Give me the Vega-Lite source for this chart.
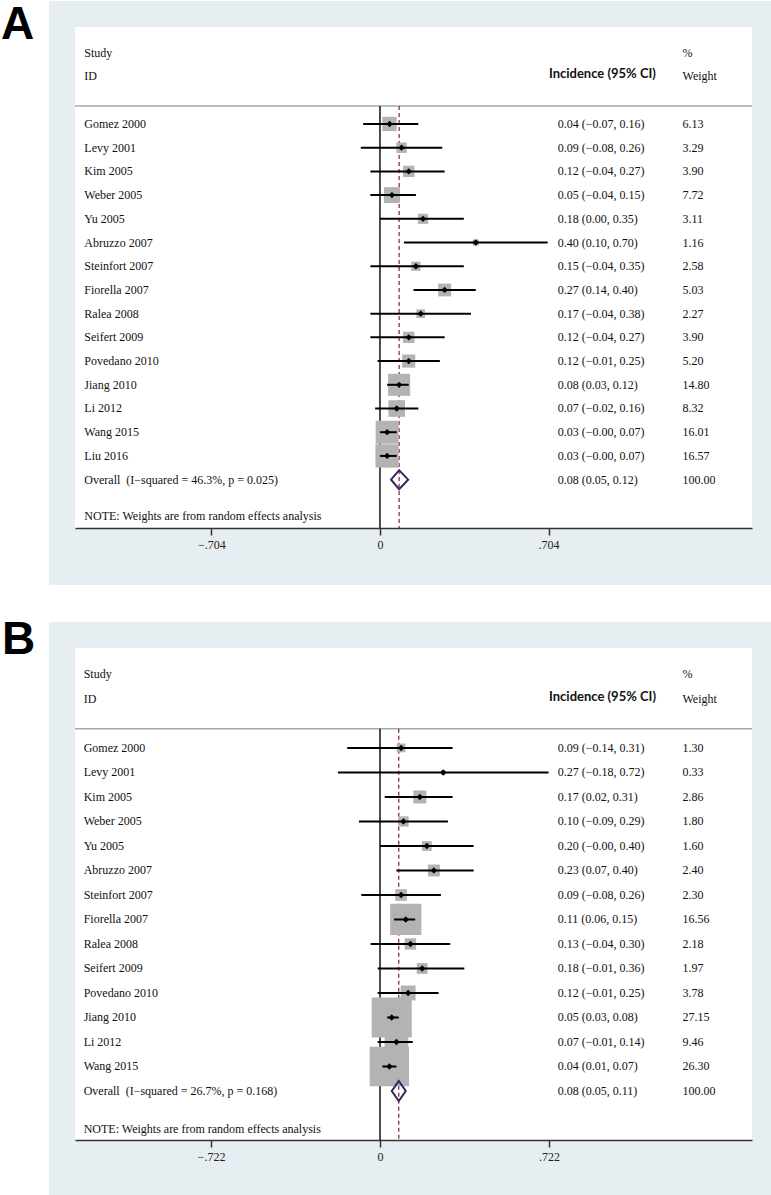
{
  "$schema": "https://vega.github.io/schema/vega-lite/v6.json",
  "padding": 0,
  "autosize": {"type": "pad"},
  "background": "white",
  "spacing": 31,
  "resolve": {"scale": {"size": "independent"}},
  "config": {
    "view": {"stroke": null, "fill": null},
    "text": {"font": "Liberation Serif", "fontSize": 12, "color": "#111111"},
    "axisX": {"grid": false,
      "domainColor": "#333333", "domainWidth": 1.5, "tickColor": "#333333", "tickWidth": 1.5, "tickSize": 7,
      "labelFont": "Liberation Serif", "labelFontSize": 12, "labelColor": "#222222", "labelPadding": 4,
      "labelFlush": false, "labelOverlap": false}
  },
  "datasets": {
    "A": [
      {"row": 1, "study": "Gomez 2000", "es": 0.04, "lo": -0.07, "hi": 0.16, "ci": "0.04 (−0.07, 0.16)", "w": 6.13, "kind": "study"},
      {"row": 2, "study": "Levy 2001", "es": 0.09, "lo": -0.08, "hi": 0.26, "ci": "0.09 (−0.08, 0.26)", "w": 3.29, "kind": "study"},
      {"row": 3, "study": "Kim 2005", "es": 0.12, "lo": -0.04, "hi": 0.27, "ci": "0.12 (−0.04, 0.27)", "w": 3.90, "kind": "study"},
      {"row": 4, "study": "Weber 2005", "es": 0.05, "lo": -0.04, "hi": 0.15, "ci": "0.05 (−0.04, 0.15)", "w": 7.72, "kind": "study"},
      {"row": 5, "study": "Yu 2005", "es": 0.18, "lo": 0.00, "hi": 0.35, "ci": "0.18 (0.00, 0.35)", "w": 3.11, "kind": "study"},
      {"row": 6, "study": "Abruzzo 2007", "es": 0.40, "lo": 0.10, "hi": 0.70, "ci": "0.40 (0.10, 0.70)", "w": 1.16, "kind": "study"},
      {"row": 7, "study": "Steinfort 2007", "es": 0.15, "lo": -0.04, "hi": 0.35, "ci": "0.15 (−0.04, 0.35)", "w": 2.58, "kind": "study"},
      {"row": 8, "study": "Fiorella 2007", "es": 0.27, "lo": 0.14, "hi": 0.40, "ci": "0.27 (0.14, 0.40)", "w": 5.03, "kind": "study"},
      {"row": 9, "study": "Ralea 2008", "es": 0.17, "lo": -0.04, "hi": 0.38, "ci": "0.17 (−0.04, 0.38)", "w": 2.27, "kind": "study"},
      {"row": 10, "study": "Seifert 2009", "es": 0.12, "lo": -0.04, "hi": 0.27, "ci": "0.12 (−0.04, 0.27)", "w": 3.90, "kind": "study"},
      {"row": 11, "study": "Povedano 2010", "es": 0.12, "lo": -0.01, "hi": 0.25, "ci": "0.12 (−0.01, 0.25)", "w": 5.20, "kind": "study"},
      {"row": 12, "study": "Jiang 2010", "es": 0.08, "lo": 0.03, "hi": 0.12, "ci": "0.08 (0.03, 0.12)", "w": 14.80, "kind": "study"},
      {"row": 13, "study": "Li 2012", "es": 0.07, "lo": -0.02, "hi": 0.16, "ci": "0.07 (−0.02, 0.16)", "w": 8.32, "kind": "study"},
      {"row": 14, "study": "Wang 2015", "es": 0.03, "lo": -0.00, "hi": 0.07, "ci": "0.03 (−0.00, 0.07)", "w": 16.01, "kind": "study"},
      {"row": 15, "study": "Liu 2016", "es": 0.03, "lo": -0.00, "hi": 0.07, "ci": "0.03 (−0.00, 0.07)", "w": 16.57, "kind": "study"},
      {"row": 16, "study": "Overall\u00a0 (I−squared = 46.3%, p = 0.025)", "es": 0.08, "lo": 0.05, "hi": 0.12, "ci": "0.08 (0.05, 0.12)", "w": 100.00, "kind": "overall"}
    ],
    "B": [
      {"row": 1, "study": "Gomez 2000", "es": 0.09, "lo": -0.14, "hi": 0.31, "ci": "0.09 (−0.14, 0.31)", "w": 1.30, "kind": "study"},
      {"row": 2, "study": "Levy 2001", "es": 0.27, "lo": -0.18, "hi": 0.72, "ci": "0.27 (−0.18, 0.72)", "w": 0.33, "kind": "study"},
      {"row": 3, "study": "Kim 2005", "es": 0.17, "lo": 0.02, "hi": 0.31, "ci": "0.17 (0.02, 0.31)", "w": 2.86, "kind": "study"},
      {"row": 4, "study": "Weber 2005", "es": 0.10, "lo": -0.09, "hi": 0.29, "ci": "0.10 (−0.09, 0.29)", "w": 1.80, "kind": "study"},
      {"row": 5, "study": "Yu 2005", "es": 0.20, "lo": -0.00, "hi": 0.40, "ci": "0.20 (−0.00, 0.40)", "w": 1.60, "kind": "study"},
      {"row": 6, "study": "Abruzzo 2007", "es": 0.23, "lo": 0.07, "hi": 0.40, "ci": "0.23 (0.07, 0.40)", "w": 2.40, "kind": "study"},
      {"row": 7, "study": "Steinfort 2007", "es": 0.09, "lo": -0.08, "hi": 0.26, "ci": "0.09 (−0.08, 0.26)", "w": 2.30, "kind": "study"},
      {"row": 8, "study": "Fiorella 2007", "es": 0.11, "lo": 0.06, "hi": 0.15, "ci": "0.11 (0.06, 0.15)", "w": 16.56, "kind": "study"},
      {"row": 9, "study": "Ralea 2008", "es": 0.13, "lo": -0.04, "hi": 0.30, "ci": "0.13 (−0.04, 0.30)", "w": 2.18, "kind": "study"},
      {"row": 10, "study": "Seifert 2009", "es": 0.18, "lo": -0.01, "hi": 0.36, "ci": "0.18 (−0.01, 0.36)", "w": 1.97, "kind": "study"},
      {"row": 11, "study": "Povedano 2010", "es": 0.12, "lo": -0.01, "hi": 0.25, "ci": "0.12 (−0.01, 0.25)", "w": 3.78, "kind": "study"},
      {"row": 12, "study": "Jiang 2010", "es": 0.05, "lo": 0.03, "hi": 0.08, "ci": "0.05 (0.03, 0.08)", "w": 27.15, "kind": "study"},
      {"row": 13, "study": "Li 2012", "es": 0.07, "lo": -0.01, "hi": 0.14, "ci": "0.07 (−0.01, 0.14)", "w": 9.46, "kind": "study"},
      {"row": 14, "study": "Wang 2015", "es": 0.04, "lo": 0.01, "hi": 0.07, "ci": "0.04 (0.01, 0.07)", "w": 26.30, "kind": "study"},
      {"row": 15, "study": "Overall\u00a0 (I−squared = 26.7%, p = 0.168)", "es": 0.08, "lo": 0.05, "hi": 0.11, "ci": "0.08 (0.05, 0.11)", "w": 100.00, "kind": "overall"}
    ]
  },
  "vconcat": [
    {
      "width": 677,
      "height": 501,
      "data": {"name": "A"},
      "layer": [
        {
          "data": {"values": [{}]},
          "mark": {"type": "rect", "color": "#e7eef2"},
          "encoding": {
            "x": {"datum": -1.382, "type": "quantitative", "scale": {"domain": [-1.273, 1.553], "nice": false, "zero": false}},
            "x2": {"datum": 1.636},
            "y": {"datum": -4.19, "type": "quantitative", "scale": {"domain": [-3.09, 18.04], "reverse": true, "nice": false, "zero": false}, "axis": null},
            "y2": {"datum": 20.44}
          }
        },
        {
          "data": {"values": [{}]},
          "mark": {"type": "rect", "color": "white"},
          "encoding": {
            "x": {"datum": -1.273, "type": "quantitative", "scale": {"domain": [-1.273, 1.553], "nice": false, "zero": false}},
            "x2": {"datum": 1.553},
            "y": {"datum": -3.09, "type": "quantitative", "scale": {"domain": [-3.09, 18.04], "reverse": true, "nice": false, "zero": false}, "axis": null},
            "y2": {"datum": 18.04}
          }
        },
        {
          "data": {"values": [{}]},
          "mark": {"type": "rule", "color": "#a8a8a8", "strokeWidth": 1.5},
          "encoding": {
            "x": {"datum": -1.273, "type": "quantitative", "scale": {"domain": [-1.273, 1.553], "nice": false, "zero": false}},
            "x2": {"datum": 1.553},
            "y": {"datum": 0.24, "type": "quantitative", "scale": {"domain": [-3.09, 18.04], "reverse": true, "nice": false, "zero": false}, "axis": null}
          }
        },
        {
          "data": {"values": [{}]},
          "mark": {"type": "rule", "color": "#111111", "strokeWidth": 1.5},
          "encoding": {
            "x": {"datum": 0, "type": "quantitative", "scale": {"domain": [-1.273, 1.553], "nice": false, "zero": false}},
            "y": {"datum": 0.24, "type": "quantitative", "scale": {"domain": [-3.09, 18.04], "reverse": true, "nice": false, "zero": false}, "axis": null},
            "y2": {"datum": 18.04}
          }
        },
        {
          "transform": [{"filter": "datum.kind == 'overall'"}],
          "mark": {"type": "rule", "color": "#8b1f24", "strokeWidth": 1.2, "strokeDash": [4, 3]},
          "encoding": {
            "x": {"field": "es", "type": "quantitative", "scale": {"domain": [-1.273, 1.553], "nice": false, "zero": false}, "axis": {"values": [-0.704, 0, 0.704], "title": null, "grid": false, "zindex": 1, "labelExpr": "datum.value == 0 ? '0' : (datum.value < 0 ? '−' : '') + replace(format(abs(datum.value), '.3f'), '0.', '.')"}},
            "y": {"datum": 0.24, "type": "quantitative", "scale": {"domain": [-3.09, 18.04], "reverse": true, "nice": false, "zero": false}, "axis": null},
            "y2": {"datum": 18.04}
          }
        },
        {
          "transform": [{"filter": "datum.kind == 'study'"}],
          "mark": {"type": "point", "shape": "square", "filled": true, "color": "#b3b3b3", "opacity": 1},
          "encoding": {
            "x": {"field": "es", "type": "quantitative", "scale": {"domain": [-1.273, 1.553], "nice": false, "zero": false}, "axis": {"values": [-0.704, 0, 0.704], "title": null, "grid": false, "zindex": 1, "labelExpr": "datum.value == 0 ? '0' : (datum.value < 0 ? '−' : '') + replace(format(abs(datum.value), '.3f'), '0.', '.')"}},
            "y": {"field": "row", "type": "quantitative", "scale": {"domain": [-3.09, 18.04], "reverse": true, "nice": false, "zero": false}, "axis": null},
            "size": {"field": "w", "type": "quantitative", "scale": {"type": "linear", "domain": [0, 100], "range": [0, 3300]}, "legend": null}
          }
        },
        {
          "transform": [{"filter": "datum.kind == 'study'"}],
          "mark": {"type": "rule", "color": "#000000", "strokeWidth": 2},
          "encoding": {
            "x": {"field": "lo", "type": "quantitative", "scale": {"domain": [-1.273, 1.553], "nice": false, "zero": false}, "axis": {"values": [-0.704, 0, 0.704], "title": null, "grid": false, "zindex": 1, "labelExpr": "datum.value == 0 ? '0' : (datum.value < 0 ? '−' : '') + replace(format(abs(datum.value), '.3f'), '0.', '.')"}},
            "x2": {"field": "hi"},
            "y": {"field": "row", "type": "quantitative", "scale": {"domain": [-3.09, 18.04], "reverse": true, "nice": false, "zero": false}, "axis": null}
          }
        },
        {
          "transform": [{"filter": "datum.kind == 'study'"}],
          "mark": {"type": "point", "shape": "diamond", "filled": true, "color": "#000000", "opacity": 1, "size": 40},
          "encoding": {
            "x": {"field": "es", "type": "quantitative", "scale": {"domain": [-1.273, 1.553], "nice": false, "zero": false}, "axis": {"values": [-0.704, 0, 0.704], "title": null, "grid": false, "zindex": 1, "labelExpr": "datum.value == 0 ? '0' : (datum.value < 0 ? '−' : '') + replace(format(abs(datum.value), '.3f'), '0.', '.')"}},
            "y": {"field": "row", "type": "quantitative", "scale": {"domain": [-3.09, 18.04], "reverse": true, "nice": false, "zero": false}, "axis": null}
          }
        },
        {
          "transform": [{"filter": "datum.kind == 'overall'"}],
          "mark": {"type": "point", "shape": "M -0.85 0 L 0 -1 L 0.95 0 L 0 1 Z", "filled": false, "stroke": "#2b2b5e", "strokeWidth": 2, "opacity": 1, "size": 361},
          "encoding": {
            "x": {"field": "es", "type": "quantitative", "scale": {"domain": [-1.273, 1.553], "nice": false, "zero": false}, "axis": {"values": [-0.704, 0, 0.704], "title": null, "grid": false, "zindex": 1, "labelExpr": "datum.value == 0 ? '0' : (datum.value < 0 ? '−' : '') + replace(format(abs(datum.value), '.3f'), '0.', '.')"}},
            "y": {"field": "row", "type": "quantitative", "scale": {"domain": [-3.09, 18.04], "reverse": true, "nice": false, "zero": false}, "axis": null}
          }
        },
        {
          "mark": {"type": "text", "align": "left", "baseline": "middle"},
          "encoding": {
            "x": {"datum": -1.234, "type": "quantitative", "scale": {"domain": [-1.273, 1.553], "nice": false, "zero": false}},
            "y": {"field": "row", "type": "quantitative", "scale": {"domain": [-3.09, 18.04], "reverse": true, "nice": false, "zero": false}, "axis": null},
            "text": {"field": "study"}
          }
        },
        {
          "mark": {"type": "text", "align": "left", "baseline": "middle"},
          "encoding": {
            "x": {"datum": 0.742, "type": "quantitative", "scale": {"domain": [-1.273, 1.553], "nice": false, "zero": false}},
            "y": {"field": "row", "type": "quantitative", "scale": {"domain": [-3.09, 18.04], "reverse": true, "nice": false, "zero": false}, "axis": null},
            "text": {"field": "ci"}
          }
        },
        {
          "mark": {"type": "text", "align": "left", "baseline": "middle"},
          "encoding": {
            "x": {"datum": 1.263, "type": "quantitative", "scale": {"domain": [-1.273, 1.553], "nice": false, "zero": false}},
            "y": {"field": "row", "type": "quantitative", "scale": {"domain": [-3.09, 18.04], "reverse": true, "nice": false, "zero": false}, "axis": null},
            "text": {"field": "w", "type": "quantitative", "format": ".2f"}
          }
        },
        {
          "data": {"values": [{}]},
          "mark": {"type": "text", "align": "left", "baseline": "middle", "text": "Study"},
          "encoding": {
            "x": {"datum": -1.234, "type": "quantitative", "scale": {"domain": [-1.273, 1.553], "nice": false, "zero": false}},
            "y": {"datum": -1.99, "type": "quantitative", "scale": {"domain": [-3.09, 18.04], "reverse": true, "nice": false, "zero": false}, "axis": null}
          }
        },
        {
          "data": {"values": [{}]},
          "mark": {"type": "text", "align": "left", "baseline": "middle", "text": "ID"},
          "encoding": {
            "x": {"datum": -1.234, "type": "quantitative", "scale": {"domain": [-1.273, 1.553], "nice": false, "zero": false}},
            "y": {"datum": -1.02, "type": "quantitative", "scale": {"domain": [-3.09, 18.04], "reverse": true, "nice": false, "zero": false}, "axis": null}
          }
        },
        {
          "data": {"values": [{}]},
          "mark": {"type": "text", "align": "left", "baseline": "middle", "text": "%"},
          "encoding": {
            "x": {"datum": 1.263, "type": "quantitative", "scale": {"domain": [-1.273, 1.553], "nice": false, "zero": false}},
            "y": {"datum": -1.99, "type": "quantitative", "scale": {"domain": [-3.09, 18.04], "reverse": true, "nice": false, "zero": false}, "axis": null}
          }
        },
        {
          "data": {"values": [{}]},
          "mark": {"type": "text", "align": "left", "baseline": "middle", "text": "Weight"},
          "encoding": {
            "x": {"datum": 1.263, "type": "quantitative", "scale": {"domain": [-1.273, 1.553], "nice": false, "zero": false}},
            "y": {"datum": -1.02, "type": "quantitative", "scale": {"domain": [-3.09, 18.04], "reverse": true, "nice": false, "zero": false}, "axis": null}
          }
        },
        {
          "data": {"values": [{}]},
          "mark": {"type": "text", "align": "right", "baseline": "middle", "text": "Incidence (95% CI)", "font": "Lato", "fontWeight": "bold", "fontSize": 13},
          "encoding": {
            "x": {"datum": 1.152, "type": "quantitative", "scale": {"domain": [-1.273, 1.553], "nice": false, "zero": false}},
            "y": {"datum": -1.1, "type": "quantitative", "scale": {"domain": [-3.09, 18.04], "reverse": true, "nice": false, "zero": false}, "axis": null}
          }
        },
        {
          "data": {"values": [{}]},
          "mark": {"type": "text", "align": "left", "baseline": "middle", "text": "NOTE: Weights are from random effects analysis"},
          "encoding": {
            "x": {"datum": -1.234, "type": "quantitative", "scale": {"domain": [-1.273, 1.553], "nice": false, "zero": false}},
            "y": {"datum": 17.55, "type": "quantitative", "scale": {"domain": [-3.09, 18.04], "reverse": true, "nice": false, "zero": false}, "axis": null}
          }
        },
        {
          "data": {"values": [{}]},
          "mark": {"type": "text", "align": "left", "baseline": "alphabetic", "text": "A", "font": "Liberation Sans", "fontWeight": "bold", "fontSize": 46, "color": "#000000"},
          "encoding": {
            "x": {"datum": -1.582, "type": "quantitative", "scale": {"domain": [-1.273, 1.553], "nice": false, "zero": false}},
            "y": {"datum": -2.585, "type": "quantitative", "scale": {"domain": [-3.09, 18.04], "reverse": true, "nice": false, "zero": false}, "axis": null}
          }
        }
      ]
    },
    {
      "width": 677,
      "height": 492,
      "data": {"name": "B"},
      "resolve": {"axis": {"x": "independent"}},
      "layer": [
        {
          "data": {"values": [{}]},
          "mark": {"type": "rect", "color": "#e7eef2"},
          "encoding": {
            "x": {"datum": -1.414, "type": "quantitative", "scale": {"domain": [-1.303, 1.589], "nice": false, "zero": false}, "axis": null},
            "x2": {"datum": 1.674},
            "y": {"datum": -4.143, "type": "quantitative", "scale": {"domain": [-3.08, 17.0], "reverse": true, "nice": false, "zero": false}, "axis": null},
            "y2": {"datum": 19.33}
          }
        },
        {
          "data": {"values": [{}]},
          "mark": {"type": "rect", "color": "white"},
          "encoding": {
            "x": {"datum": -1.303, "type": "quantitative", "scale": {"domain": [-1.303, 1.589], "nice": false, "zero": false}, "axis": null},
            "x2": {"datum": 1.589},
            "y": {"datum": -3.08, "type": "quantitative", "scale": {"domain": [-3.08, 17.0], "reverse": true, "nice": false, "zero": false}, "axis": null},
            "y2": {"datum": 17.0}
          }
        },
        {
          "data": {"values": [{}]},
          "mark": {"type": "rule", "color": "#a8a8a8", "strokeWidth": 1.5},
          "encoding": {
            "x": {"datum": -1.303, "type": "quantitative", "scale": {"domain": [-1.303, 1.589], "nice": false, "zero": false}, "axis": null},
            "x2": {"datum": 1.589},
            "y": {"datum": 0.22, "type": "quantitative", "scale": {"domain": [-3.08, 17.0], "reverse": true, "nice": false, "zero": false}, "axis": null}
          }
        },
        {
          "data": {"values": [{}]},
          "mark": {"type": "rule", "color": "#111111", "strokeWidth": 1.5},
          "encoding": {
            "x": {"datum": 0, "type": "quantitative", "scale": {"domain": [-1.303, 1.589], "nice": false, "zero": false}, "axis": null},
            "y": {"datum": 0.22, "type": "quantitative", "scale": {"domain": [-3.08, 17.0], "reverse": true, "nice": false, "zero": false}, "axis": null},
            "y2": {"datum": 17.0}
          }
        },
        {
          "transform": [{"filter": "datum.kind == 'overall'"}],
          "mark": {"type": "rule", "color": "#8b1f24", "strokeWidth": 1.2, "strokeDash": [4, 3]},
          "encoding": {
            "x": {"field": "es", "type": "quantitative", "scale": {"domain": [-1.303, 1.589], "nice": false, "zero": false}, "axis": null},
            "y": {"datum": 0.22, "type": "quantitative", "scale": {"domain": [-3.08, 17.0], "reverse": true, "nice": false, "zero": false}, "axis": null},
            "y2": {"datum": 17.0}
          }
        },
        {
          "transform": [{"filter": "datum.kind == 'study'"}],
          "mark": {"type": "point", "shape": "square", "filled": true, "color": "#b3b3b3", "opacity": 1},
          "encoding": {
            "x": {"field": "es", "type": "quantitative", "scale": {"domain": [-1.303, 1.589], "nice": false, "zero": false}, "axis": null},
            "y": {"field": "row", "type": "quantitative", "scale": {"domain": [-3.08, 17.0], "reverse": true, "nice": false, "zero": false}, "axis": null},
            "size": {"field": "w", "type": "quantitative", "scale": {"type": "linear", "domain": [0, 100], "range": [0, 5900]}, "legend": null}
          }
        },
        {
          "transform": [{"filter": "datum.kind == 'study'"}],
          "mark": {"type": "rule", "color": "#000000", "strokeWidth": 2},
          "encoding": {
            "x": {"field": "lo", "type": "quantitative", "scale": {"domain": [-1.303, 1.589], "nice": false, "zero": false}, "axis": {"values": [-0.722, 0, 0.722], "title": null, "grid": false, "zindex": 1, "labelExpr": "datum.value == 0 ? '0' : (datum.value < 0 ? '−' : '') + replace(format(abs(datum.value), '.3f'), '0.', '.')"}},
            "x2": {"field": "hi"},
            "y": {"field": "row", "type": "quantitative", "scale": {"domain": [-3.08, 17.0], "reverse": true, "nice": false, "zero": false}, "axis": null}
          }
        },
        {
          "transform": [{"filter": "datum.kind == 'study'"}],
          "mark": {"type": "point", "shape": "diamond", "filled": true, "color": "#000000", "opacity": 1, "size": 40},
          "encoding": {
            "x": {"field": "es", "type": "quantitative", "scale": {"domain": [-1.303, 1.589], "nice": false, "zero": false}, "axis": null},
            "y": {"field": "row", "type": "quantitative", "scale": {"domain": [-3.08, 17.0], "reverse": true, "nice": false, "zero": false}, "axis": null}
          }
        },
        {
          "transform": [{"filter": "datum.kind == 'overall'"}],
          "mark": {"type": "point", "shape": "M -0.7 0 L 0 -1 L 0.7 0 L 0 1 Z", "filled": false, "stroke": "#2b2b5e", "strokeWidth": 2, "opacity": 1, "size": 400},
          "encoding": {
            "x": {"field": "es", "type": "quantitative", "scale": {"domain": [-1.303, 1.589], "nice": false, "zero": false}, "axis": null},
            "y": {"field": "row", "type": "quantitative", "scale": {"domain": [-3.08, 17.0], "reverse": true, "nice": false, "zero": false}, "axis": null}
          }
        },
        {
          "mark": {"type": "text", "align": "left", "baseline": "middle"},
          "encoding": {
            "x": {"datum": -1.266, "type": "quantitative", "scale": {"domain": [-1.303, 1.589], "nice": false, "zero": false}, "axis": null},
            "y": {"field": "row", "type": "quantitative", "scale": {"domain": [-3.08, 17.0], "reverse": true, "nice": false, "zero": false}, "axis": null},
            "text": {"field": "study"}
          }
        },
        {
          "mark": {"type": "text", "align": "left", "baseline": "middle"},
          "encoding": {
            "x": {"datum": 0.759, "type": "quantitative", "scale": {"domain": [-1.303, 1.589], "nice": false, "zero": false}, "axis": null},
            "y": {"field": "row", "type": "quantitative", "scale": {"domain": [-3.08, 17.0], "reverse": true, "nice": false, "zero": false}, "axis": null},
            "text": {"field": "ci"}
          }
        },
        {
          "mark": {"type": "text", "align": "left", "baseline": "middle"},
          "encoding": {
            "x": {"datum": 1.292, "type": "quantitative", "scale": {"domain": [-1.303, 1.589], "nice": false, "zero": false}, "axis": null},
            "y": {"field": "row", "type": "quantitative", "scale": {"domain": [-3.08, 17.0], "reverse": true, "nice": false, "zero": false}, "axis": null},
            "text": {"field": "w", "type": "quantitative", "format": ".2f"}
          }
        },
        {
          "data": {"values": [{}]},
          "mark": {"type": "text", "align": "left", "baseline": "middle", "text": "Study"},
          "encoding": {
            "x": {"datum": -1.266, "type": "quantitative", "scale": {"domain": [-1.303, 1.589], "nice": false, "zero": false}, "axis": null},
            "y": {"datum": -2.02, "type": "quantitative", "scale": {"domain": [-3.08, 17.0], "reverse": true, "nice": false, "zero": false}, "axis": null}
          }
        },
        {
          "data": {"values": [{}]},
          "mark": {"type": "text", "align": "left", "baseline": "middle", "text": "ID"},
          "encoding": {
            "x": {"datum": -1.266, "type": "quantitative", "scale": {"domain": [-1.303, 1.589], "nice": false, "zero": false}, "axis": null},
            "y": {"datum": -1.0, "type": "quantitative", "scale": {"domain": [-3.08, 17.0], "reverse": true, "nice": false, "zero": false}, "axis": null}
          }
        },
        {
          "data": {"values": [{}]},
          "mark": {"type": "text", "align": "left", "baseline": "middle", "text": "%"},
          "encoding": {
            "x": {"datum": 1.292, "type": "quantitative", "scale": {"domain": [-1.303, 1.589], "nice": false, "zero": false}, "axis": null},
            "y": {"datum": -2.02, "type": "quantitative", "scale": {"domain": [-3.08, 17.0], "reverse": true, "nice": false, "zero": false}, "axis": null}
          }
        },
        {
          "data": {"values": [{}]},
          "mark": {"type": "text", "align": "left", "baseline": "middle", "text": "Weight"},
          "encoding": {
            "x": {"datum": 1.292, "type": "quantitative", "scale": {"domain": [-1.303, 1.589], "nice": false, "zero": false}, "axis": null},
            "y": {"datum": -1.0, "type": "quantitative", "scale": {"domain": [-3.08, 17.0], "reverse": true, "nice": false, "zero": false}, "axis": null}
          }
        },
        {
          "data": {"values": [{}]},
          "mark": {"type": "text", "align": "right", "baseline": "middle", "text": "Incidence (95% CI)", "font": "Lato", "fontWeight": "bold", "fontSize": 13},
          "encoding": {
            "x": {"datum": 1.179, "type": "quantitative", "scale": {"domain": [-1.303, 1.589], "nice": false, "zero": false}, "axis": null},
            "y": {"datum": -1.08, "type": "quantitative", "scale": {"domain": [-3.08, 17.0], "reverse": true, "nice": false, "zero": false}, "axis": null}
          }
        },
        {
          "data": {"values": [{}]},
          "mark": {"type": "text", "align": "left", "baseline": "middle", "text": "NOTE: Weights are from random effects analysis"},
          "encoding": {
            "x": {"datum": -1.266, "type": "quantitative", "scale": {"domain": [-1.303, 1.589], "nice": false, "zero": false}, "axis": null},
            "y": {"datum": 16.55, "type": "quantitative", "scale": {"domain": [-3.08, 17.0], "reverse": true, "nice": false, "zero": false}, "axis": null}
          }
        },
        {
          "data": {"values": [{}]},
          "mark": {"type": "text", "align": "left", "baseline": "alphabetic", "text": "B", "font": "Liberation Sans", "fontWeight": "bold", "fontSize": 46, "color": "#000000"},
          "encoding": {
            "x": {"datum": -1.615, "type": "quantitative", "scale": {"domain": [-1.303, 1.589], "nice": false, "zero": false}, "axis": null},
            "y": {"datum": -2.84, "type": "quantitative", "scale": {"domain": [-3.08, 17.0], "reverse": true, "nice": false, "zero": false}, "axis": null}
          }
        }
      ]
    }
  ]
}
